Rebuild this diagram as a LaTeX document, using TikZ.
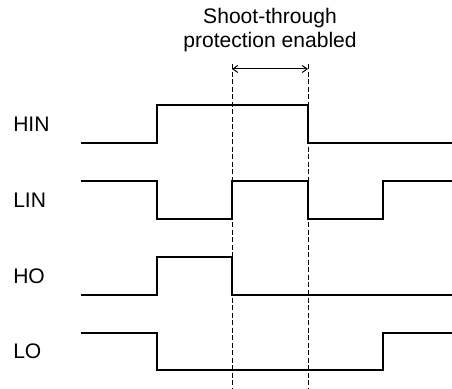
\documentclass[tikz,border=0pt]{standalone}
\usepackage{fontspec}
\setmainfont{Liberation Sans}
\usetikzlibrary{arrows.meta}
\tikzset{
    wave/.style = {line width = 1.5pt, line join = miter},
    guide/.style = {line width = 0.75pt, dash pattern = on 3.75pt off 1.9pt},
    siglabel/.style = {anchor = west, inner sep = 0pt, font = \fontsize{15.8}{18}\selectfont}
}
\begin{document}
\begin{tikzpicture}[x = 0.75pt, y = -0.75pt]
            \useasboundingbox (0, 0) rectangle (452, 388);
            %\draw[lightgray] (0, 0) grid[step = 20] (452, 388);

            % labels
            \node[siglabel] (hin) at (13, 124) {HIN};
            \node[siglabel] (lin) at (13, 200) {LIN};
            \node[siglabel] (ho) at (13, 276) {HO};
            \node[siglabel] (lo) at (13, 351) {LO};
            \node[align = center, inner sep = 0pt, font = \fontsize{15.8}{18}\selectfont] (title) at (270, 30.5) {Shoot-through\\protection enabled};

            % waveforms
            \draw[wave] (81, 143) -- (157, 143) -- (157, 105) -- (308, 105) -- (308, 143) -- (452, 143);
            \draw[wave] (81, 181) -- (157, 181) -- (157, 219) -- (232, 219) -- (232, 181) -- (308, 181) -- (308, 219) -- (383, 219) -- (383, 181) -- (452, 181);
            \draw[wave] (81, 295) -- (157, 295) -- (157, 257) -- (232, 257) -- (232, 295) -- (452, 295);
            \draw[wave] (81, 333) -- (157, 333) -- (157, 370) -- (383, 370) -- (383, 333) -- (452, 333);

            % dead time markers
            \coordinate (ta) at (232, 64);
            \coordinate (tb) at (308, 64);
            \coordinate (ba) at (232, 388);
            \coordinate (bb) at (308, 388);
            \coordinate (aa) at (232, 69);
            \coordinate (ab) at (308, 69);
            \draw[guide] (ta) -- (ba);
            \draw[guide] (tb) -- (bb);
            \draw[{Straight Barb[length = 3.75pt, width = 5.25pt]}-{Straight Barb[length = 3.75pt, width = 5.25pt]}, line width = 0.75pt] (aa) -- (ab);
\end{tikzpicture}
\end{document}
